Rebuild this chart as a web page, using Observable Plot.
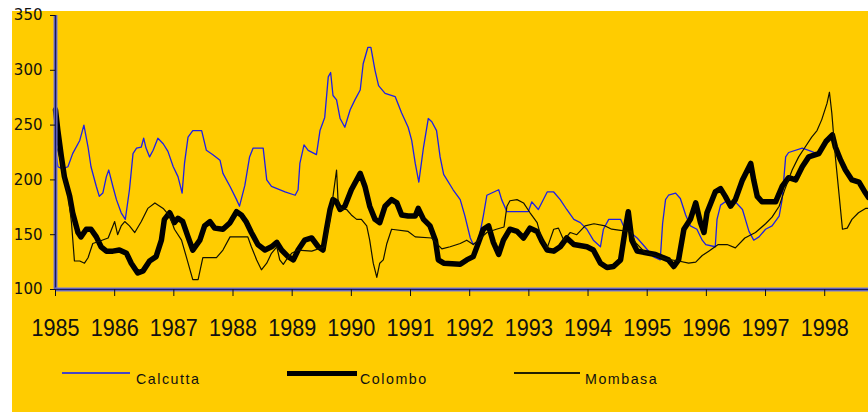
<!DOCTYPE html>
<html>
<head>
<meta charset="utf-8">
<script src="https://cdn.jsdelivr.net/npm/d3@7"></script>
<script src="https://cdn.jsdelivr.net/npm/@observablehq/plot@0.6"></script>
<style>
  html, body { margin: 0; padding: 0; background: #ffffff; }
  #wrap { position: relative; width: 868px; height: 413px; overflow: hidden; background: #ffffff; }
  #bg { position: absolute; left: 12px; top: 11px; width: 856px; height: 401px; background: #FFCC00; }
  #chart { position: absolute; left: 0; top: 0; }
  #chart svg { background: transparent; overflow: visible; }
  [aria-label="x-axis tick label"] text { font-family: "Liberation Sans", Arial, sans-serif; font-size: 23.5px; fill: #111; }
  [aria-label="y-axis tick label"] text { font-family: "DejaVu Sans", Verdana, sans-serif; font-size: 15px; fill: #111; }
  .leg { position: absolute; font-family: "Liberation Sans", Arial, sans-serif; font-size: 15px; letter-spacing: 1.6px; color: #111; line-height: 15px; white-space: nowrap; transform-origin: left top; transform: scaleX(0.95); }
  .sw { position: absolute; }
</style>
</head>
<body>
<div id="wrap">
  <div id="bg"></div>
  <div id="chart"></div>
  <div id="legend"></div>
</div>
<script>
// ---- Data ----
const seriesNames = ["Calcutta", "Colombo", "Mombasa"];
const yearTicks = [1985, 1986, 1987, 1988, 1989, 1990, 1991, 1992, 1993, 1994, 1995, 1996, 1997, 1998];
const valueTicks = [100, 150, 200, 250, 300, 350];

const calcuttaYears = [1985.00,1985.04,1985.12,1985.21,1985.29,1985.41,1985.48,1985.55,1985.60,1985.69,1985.74,1985.80,1985.86,1985.90,1985.97,1986.03,1986.11,1986.18,1986.25,1986.31,1986.37,1986.45,1986.49,1986.53,1986.59,1986.65,1986.73,1986.82,1986.90,1986.99,1987.07,1987.14,1987.18,1987.24,1987.32,1987.47,1987.55,1987.66,1987.78,1987.83,1987.95,1988.06,1988.11,1988.20,1988.28,1988.34,1988.51,1988.57,1988.65,1988.88,1989.05,1989.10,1989.13,1989.20,1989.27,1989.41,1989.47,1989.55,1989.61,1989.65,1989.69,1989.75,1989.81,1989.89,1989.98,1990.06,1990.15,1990.20,1990.28,1990.33,1990.40,1990.46,1990.57,1990.74,1990.85,1990.96,1991.02,1991.08,1991.14,1991.22,1991.30,1991.36,1991.44,1991.50,1991.56,1991.72,1991.84,1991.92,1992.01,1992.06,1992.15,1992.23,1992.29,1992.49,1992.54,1992.63,1992.99,1993.05,1993.16,1993.31,1993.42,1993.53,1993.64,1993.76,1993.87,1993.98,1994.09,1994.21,1994.26,1994.35,1994.55,1994.60,1994.72,1994.83,1994.96,1995.10,1995.22,1995.26,1995.31,1995.36,1995.48,1995.56,1995.65,1995.73,1995.84,1995.93,1995.99,1996.15,1996.18,1996.24,1996.32,1996.49,1996.61,1996.72,1996.80,1996.89,1997.00,1997.11,1997.23,1997.28,1997.34,1997.39,1997.62,1997.73,1997.87];
const calcuttaValues = [228,212,210,212,224,236,250,230,212,194,185,188,203,209,194,182,170,164,191,224,229,230,238,229,221,227,238,233,226,212,203,188,215,239,245,245,227,223,218,206,194,182,176,195,221,229,229,200,194,189,186,191,215,232,227,223,245,257,294,298,277,273,256,248,264,273,282,306,321,321,300,286,279,276,261,248,236,215,198,230,256,253,245,221,205,191,182,167,147,141,145,167,186,191,182,171,171,180,173,189,189,182,173,164,161,155,145,139,155,164,164,158,152,147,139,130,127,160,182,186,188,183,168,158,155,145,141,139,164,177,180,180,173,153,145,148,155,158,167,182,221,225,229,227,224];

const colomboYears = [1985.00,1985.04,1985.10,1985.15,1985.24,1985.29,1985.38,1985.43,1985.52,1985.60,1985.69,1985.77,1985.86,1985.97,1986.08,1986.20,1986.28,1986.39,1986.48,1986.59,1986.70,1986.79,1986.84,1986.93,1987.01,1987.07,1987.15,1987.24,1987.32,1987.44,1987.52,1987.61,1987.69,1987.83,1987.95,1988.06,1988.14,1988.22,1988.31,1988.42,1988.54,1988.65,1988.74,1988.82,1988.93,1989.02,1989.10,1989.21,1989.33,1989.44,1989.52,1989.58,1989.64,1989.69,1989.75,1989.81,1989.89,1990.00,1990.15,1990.23,1990.31,1990.40,1990.48,1990.57,1990.68,1990.77,1990.85,1990.96,1991.08,1991.13,1991.22,1991.33,1991.42,1991.47,1991.56,1991.84,1991.95,1992.06,1992.15,1992.23,1992.32,1992.40,1992.49,1992.57,1992.68,1992.80,1992.91,1993.02,1993.14,1993.22,1993.31,1993.42,1993.53,1993.64,1993.76,1993.98,1994.09,1994.21,1994.32,1994.43,1994.55,1994.63,1994.68,1994.74,1994.83,1995.14,1995.36,1995.45,1995.53,1995.62,1995.73,1995.82,1995.90,1995.96,1996.01,1996.15,1996.24,1996.32,1996.41,1996.49,1996.61,1996.75,1996.80,1996.86,1996.94,1997.17,1997.28,1997.39,1997.51,1997.62,1997.73,1997.90,1998.02,1998.13,1998.18,1998.27,1998.35,1998.46,1998.58,1998.69,1998.74];
const colomboValues = [264,245,221,203,185,170,152,148,155,155,148,139,135,135,136,133,124,115,117,126,130,145,164,170,161,165,162,148,136,145,158,162,156,155,161,171,168,162,152,141,136,139,143,136,130,127,136,145,147,139,136,155,173,182,180,173,176,191,206,194,176,164,161,176,182,179,168,167,167,174,164,158,145,127,124,123,127,130,143,155,158,143,132,145,155,153,147,156,153,144,136,135,139,147,141,139,136,124,120,121,127,155,171,145,135,132,127,121,127,155,164,179,161,152,170,189,192,185,176,182,200,215,200,185,180,180,194,202,200,212,221,224,235,241,230,218,209,200,198,188,184];

const mombasaYears = [1985.00,1985.10,1985.15,1985.21,1985.27,1985.32,1985.41,1985.49,1985.55,1985.63,1985.74,1985.89,1986.00,1986.05,1986.11,1986.17,1986.25,1986.34,1986.45,1986.56,1986.68,1986.82,1986.93,1987.01,1987.13,1987.21,1987.32,1987.41,1987.49,1987.72,1987.83,1987.95,1988.25,1988.31,1988.40,1988.48,1988.57,1988.65,1988.74,1988.79,1988.85,1988.90,1988.99,1989.10,1989.33,1989.55,1989.64,1989.69,1989.75,1989.78,1989.84,1989.92,1990.00,1990.09,1990.17,1990.26,1990.31,1990.37,1990.43,1990.48,1990.54,1990.60,1990.68,1990.96,1991.08,1991.36,1991.44,1991.53,1991.67,1991.84,1991.95,1992.06,1992.15,1992.29,1992.45,1992.58,1992.63,1992.68,1992.80,1992.91,1993.02,1993.14,1993.22,1993.31,1993.42,1993.50,1993.59,1993.70,1993.81,1993.95,1994.10,1994.29,1994.40,1994.55,1994.73,1994.80,1994.96,1995.13,1995.30,1995.53,1995.70,1995.82,1995.93,1996.04,1996.20,1996.35,1996.49,1996.65,1996.83,1997.00,1997.11,1997.23,1997.33,1997.45,1997.56,1997.67,1997.78,1997.87,1997.95,1998.04,1998.08,1998.12,1998.18,1998.24,1998.30,1998.38,1998.46,1998.57,1998.69,1998.74];
const mombasaValues = [234,215,200,188,161,126,126,124,129,142,144,147,162,150,158,162,158,152,162,174,179,174,167,155,145,130,109,109,129,129,136,148,148,139,127,118,124,133,139,127,123,127,133,136,135,139,164,185,209,176,173,173,168,164,164,158,145,124,111,124,127,142,155,153,148,147,142,137,139,142,145,141,145,152,155,157,176,181,182,179,170,161,145,138,155,156,145,152,150,158,160,158,155,154,153,143,134,131,128,126,124,125,131,135,141,141,138,147,152,160,166,176,192,209,221,230,239,245,255,270,280,261,221,188,155,156,164,170,174,174];

const colors = { Calcutta: "#1f1fe6", Colombo: "#000000", Mombasa: "#111100" };
const widths = { Calcutta: 1.3, Colombo: 5.5, Mombasa: 1.2 };

const chart = Plot.plot({
  width: 868,
  height: 350,
  marginLeft: 55,
  marginRight: 0,
  marginTop: 15,
  marginBottom: 61,
  style: { background: "transparent", color: "#111" },
  x: { domain: [1985, 1998.74] },
  y: { domain: [100, 350] },
  marks: [
    Plot.line(calcuttaValues, { x: calcuttaYears, y: calcuttaValues, stroke: colors.Calcutta, strokeWidth: widths.Calcutta }),
    Plot.line(colomboValues, { x: colomboYears, y: colomboValues, stroke: colors.Colombo, strokeWidth: widths.Colombo, strokeLinejoin: "round" }),
    Plot.line(mombasaValues, { x: mombasaYears, y: mombasaValues, stroke: colors.Mombasa, strokeWidth: widths.Mombasa }),
    Plot.ruleX([1985], { stroke: "#7a7ae0", strokeWidth: 4 }),
    Plot.ruleX([1985], { stroke: "#1c1c55", strokeWidth: 1.6 }),
    Plot.ruleY([100], { stroke: "#7a7ae0", strokeWidth: 4 }),
    Plot.ruleY([100], { stroke: "#1c1c55", strokeWidth: 1.6 }),
    Plot.axisX({ ticks: yearTicks, tickFormat: d => String(d), tickSize: 7, tickPadding: 23, label: null, stroke: "#111" }),
    Plot.axisY({ ticks: valueTicks, tickFormat: d => String(d), tickSize: 5, tickPadding: 8, label: null, stroke: "#111" })
  ]
});
document.getElementById("chart").appendChild(chart);

// condense the year labels horizontally, as in the reference
d3.select(chart).selectAll('[aria-label="x-axis tick label"] text').each(function () {
  const t = this.getAttribute("transform") || "";
  this.setAttribute("transform", t + " scale(0.92,1)");
});

// ---- Legend (HTML, below the plot area) ----
const legendItems = [
  { name: seriesNames[0], x1: 62, x2: 130, h: 1.6, color: "#4646c4", tx: 136 },
  { name: seriesNames[1], x1: 287, x2: 357, h: 5, color: "#000000", tx: 360 },
  { name: seriesNames[2], x1: 514, x2: 580, h: 1.6, color: "#221f00", tx: 585 }
];
const lg = document.getElementById("legend");
for (const it of legendItems) {
  const sw = document.createElement("div");
  sw.className = "sw";
  sw.style.left = it.x1 + "px";
  sw.style.width = (it.x2 - it.x1) + "px";
  sw.style.top = (373 - it.h / 2) + "px";
  sw.style.height = it.h + "px";
  sw.style.background = it.color;
  lg.appendChild(sw);
  const t = document.createElement("div");
  t.className = "leg";
  t.style.left = it.tx + "px";
  t.style.top = "371px";
  t.textContent = it.name;
  lg.appendChild(t);
}
</script>
</body>
</html>
